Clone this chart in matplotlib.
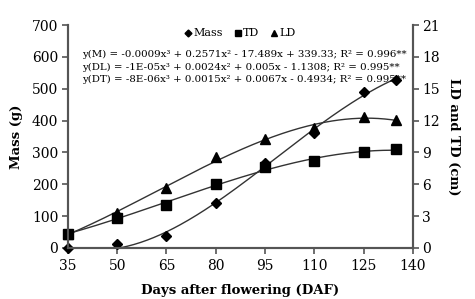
import numpy as np
import matplotlib.pyplot as plt

plt.rcParams['font.family'] = ['DejaVu Serif']

# days after flowering
daf = [35, 50, 65, 80, 95, 110, 125, 135]
# fruit mass (g)
mass = [0, 12, 38, 140, 268, 360, 490, 528]
# transverse diameter (cm)
td = [1.35, 2.85, 4.0, 6.05, 7.6, 8.2, 9.0, 9.3]
# longitudinal diameter (cm)
ld = [1.35, 3.3, 5.6, 8.55, 10.3, 11.3, 12.3, 12.05]

eqs = [
    "y(M) = -0.0009x³ + 0.2571x² - 17.489x + 339.33; R² = 0.996**",
    "y(DL) = -1E-05x³ + 0.0024x² + 0.005x - 1.1308; R² = 0.995**",
    "y(DT) = -8E-06x³ + 0.0015x² + 0.0067x - 0.4934; R² = 0.995**",
]

fig = plt.figure(figsize=(4.75, 2.99), dpi=100)
ax = fig.add_axes([0.143, 0.171, 0.726, 0.745])
ax2 = ax.twinx()

xs = np.linspace(35, 135, 200)
# cubic trend lines
pm = np.polyfit(daf, mass, 3)
pt = np.polyfit(daf, td, 3)
pl = np.polyfit(daf, ld, 3)

ax.plot(xs, np.polyval(pm, xs), color='#333333', lw=1.0)
ax.plot(daf, mass, 'D', color='black', ms=5, ls='none', label='Mass', clip_on=False)
ax2.plot(xs, np.polyval(pt, xs), color='#333333', lw=1.0)
ax2.plot(xs, np.polyval(pl, xs), color='#333333', lw=1.0)
ax2.plot(daf, td, 's', color='black', ms=6.5, ls='none', label='TD', clip_on=False)
ax2.plot(daf, ld, '^', color='black', ms=6.5, ls='none', label='LD', clip_on=False)

ax.set_xlim(35, 140)
ax.set_ylim(0, 700)
ax2.set_ylim(0, 21)
ax.set_xticks(range(35, 141, 15))
ax.set_yticks(range(0, 701, 100))
ax2.set_yticks(range(0, 22, 3))

for a in (ax, ax2):
    a.spines['top'].set_visible(False)
    for s in a.spines.values():
        s.set_color('#555555')
        s.set_linewidth(1.5)
    a.tick_params(length=4, width=1.2, color='#555555', labelsize=10, pad=3)
ax.tick_params(axis='x', pad=4)

ax.set_xlabel('Days after flowering (DAF)', fontsize=9.5, fontweight='bold', labelpad=8)
ax.set_ylabel('Mass (g)', fontsize=9.5, fontweight='bold', labelpad=6)
ax2.set_ylabel('LD and TD (cm)', fontsize=9.5, fontweight='bold', rotation=270, labelpad=14)

h1, l1 = ax.get_legend_handles_labels()
h2, l2 = ax2.get_legend_handles_labels()
ax2.legend(h1 + h2, l1 + l2, loc='upper center', bbox_to_anchor=(0.5, 1.03), ncol=3,
           frameon=False, fontsize=8, handlelength=0.6, handletextpad=0.2,
           columnspacing=1.0, markerscale=0.7)

for i, e in enumerate(eqs):
    ax.text(0.04, 0.868 - i * 0.057, e, transform=ax.transAxes, fontsize=7.4,
            va='center', ha='left')

fig.savefig('out.png', dpi=100)
